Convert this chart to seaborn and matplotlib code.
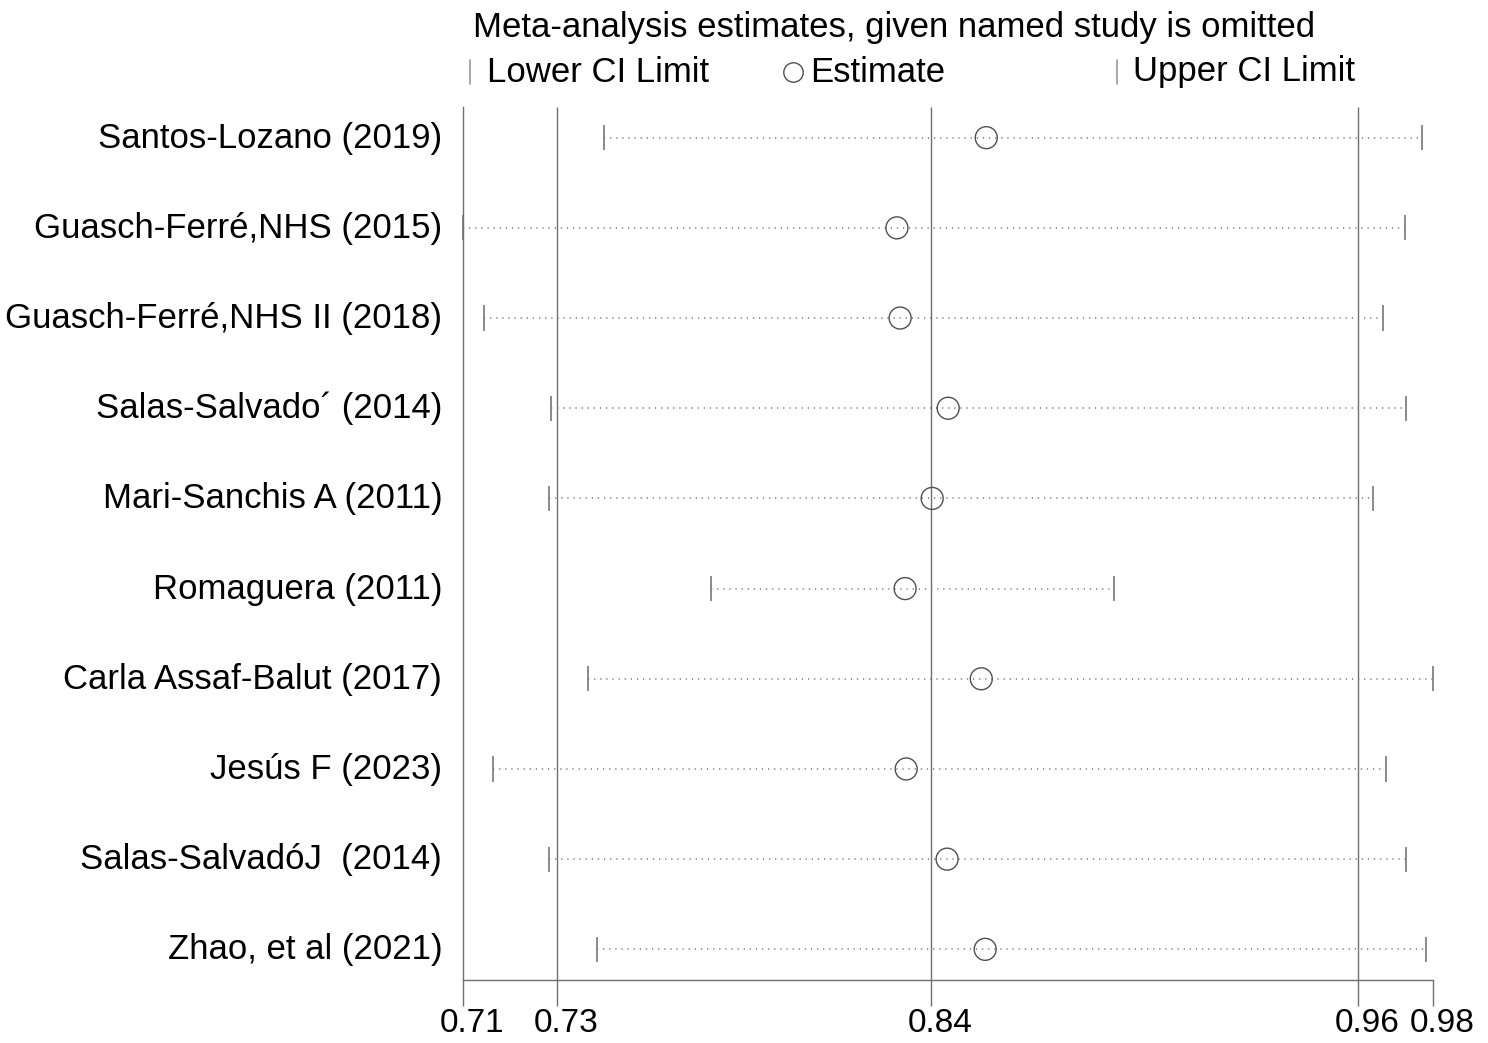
import numpy as np
import pandas as pd
import matplotlib.pyplot as plt
import matplotlib.transforms as mtransforms
import seaborn as sns

# Study labels and leave-one-out estimates
studies = ["Santos-Lozano (2019)", "Guasch-Ferré,NHS (2015)", "Guasch-Ferré,NHS II (2018)",
           "Salas-Salvado´ (2014)", "Mari-Sanchis A (2011)", "Romaguera (2011)",
           "Carla Assaf-Balut (2017)", "Jesús F (2023)", "Salas-SalvadóJ  (2014)",
           "Zhao, et al (2021)"]
estimate = [0.8555, 0.8304, 0.8313, 0.8448, 0.8403, 0.8327, 0.8541, 0.8330, 0.8445, 0.8552]
lower = [0.7481, 0.7085, 0.7144, 0.7332, 0.7327, 0.7782, 0.7436, 0.7169, 0.7327, 0.7461]
upper = [0.9780, 0.9732, 0.9670, 0.9735, 0.9642, 0.8914, 0.9810, 0.9679, 0.9735, 0.9791]

# Axis ticks: min lower, overall lower CI, overall estimate, overall upper CI, max upper
tick_values = [0.7085, 0.7350, 0.8400, 0.9600, 0.9810]
tick_labels = ["0.71", "0.73", "0.84", "0.96", "0.98"]

df = pd.DataFrame({"study": studies, "estimate": estimate, "lower": lower, "upper": upper})
df["row"] = np.arange(len(df))

sns.set_theme(style="white")
plt.rcParams['font.family'] = ['Liberation Sans', 'DejaVu Sans']
plt.rcParams['text.color'] = 'black'
plt.rcParams['xtick.color'] = 'black'
plt.rcParams['ytick.color'] = 'black'

fig = plt.figure(figsize=(14.88, 10.43), dpi=100)
ax = fig.add_axes([463 / 1488, 1 - 980 / 1043, 970 / 1488, (980 - 107) / 1043])

gray = "#777777"
# reference lines at overall CI and estimate
ax.vlines(tick_values[1:4], -0.34, 9.34, color="#707070", lw=1.0, zorder=1)

# dotted CI lines and end caps
ax.hlines(df["row"], df["lower"], df["upper"], color=gray, lw=1.1,
          linestyles=(0, (0.8, 3.2)), zorder=2, clip_on=False)
ax.vlines(df["lower"], df["row"] - 0.14, df["row"] + 0.14, color=gray, lw=1.2, zorder=2, clip_on=False)
ax.vlines(df["upper"], df["row"] - 0.14, df["row"] + 0.14, color=gray, lw=1.2, zorder=2, clip_on=False)

sns.scatterplot(data=df, x="estimate", y="row", ax=ax, marker="o", s=250,
                facecolor="none", edgecolor="#505050", linewidth=1.0, zorder=3, clip_on=False)

ax.set_xlim(tick_values[0], tick_values[-1])
ax.set_ylim(9.34, -0.34)
ax.set_xticks(tick_values)
ax.set_xticklabels(tick_labels, fontsize=24)
ax.set_yticks(df["row"])
ax.set_yticklabels(studies, fontsize=25)
ax.tick_params(axis="x", length=19, width=1.0, color="#707070", pad=1, bottom=True)
ax.tick_params(axis="y", length=0, pad=15)
ax.set_xlabel("")
ax.set_ylabel("")
shift_x = mtransforms.ScaledTranslation(9 / 100, 0, fig.dpi_scale_trans)
for lab in ax.get_xticklabels():
    lab.set_transform(lab.get_transform() + shift_x)
shift_y = mtransforms.ScaledTranslation(0, 3 / 100, fig.dpi_scale_trans)
for lab in ax.get_yticklabels():
    lab.set_transform(lab.get_transform() + shift_y)
for side in ["top", "right"]:
    ax.spines[side].set_visible(False)
for side in ["left", "bottom"]:
    ax.spines[side].set_color("#707070")
    ax.spines[side].set_linewidth(1.0)

# legend header
fig.text(473 / 1488, 1 - 27 / 1043, "Meta-analysis estimates, given named study is omitted",
         fontsize=25, ha="left", va="center")
ly = 1 - 72 / 1043
fig.add_artist(plt.Line2D([470 / 1488] * 2, [ly - 12 / 1043, ly + 12 / 1043], color="#999999", lw=1.2))
fig.text(487 / 1488, ly, "Lower CI Limit", fontsize=25, ha="left", va="center")
fig.add_artist(plt.Line2D([793 / 1488], [ly], marker="o", markersize=14, markerfacecolor="none",
                          markeredgecolor="#505050", markeredgewidth=1.0, linestyle="none"))
fig.text(810 / 1488, ly, "Estimate", fontsize=25, ha="left", va="center")
fig.add_artist(plt.Line2D([1117 / 1488] * 2, [ly - 12 / 1043, ly + 12 / 1043], color="#999999", lw=1.2))
fig.text(1133 / 1488, ly, "Upper CI Limit", fontsize=25, ha="left", va="center")

fig.savefig("out.png", dpi=100, facecolor="white")
